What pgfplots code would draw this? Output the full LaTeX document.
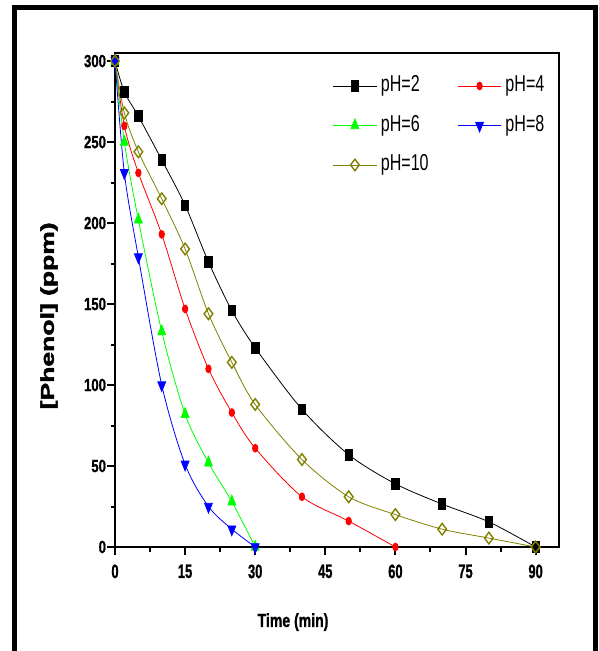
\documentclass[border=0pt]{standalone}
\usepackage{pgfplots}
\pgfplotsset{compat=1.18}
\usepackage{fontspec}
\usepackage{graphicx}
\setmainfont{Liberation Sans}
\newfontfamily\hv[FakeBold=1.3]{Liberation Sans Bold}
\newfontfamily\hvv[FakeBold=2]{Liberation Sans Bold}
\definecolor{olv}{RGB}{128,128,0}
\definecolor{grn}{RGB}{0,255,0}
\newcommand{\leg}[1]{\scalebox{0.7}[1]{#1}}

\begin{document}
\begin{tikzpicture}[x=1pt,y=1pt]
\useasboundingbox (0,0) rectangle (599,651);
\draw[line width=5pt] (14.5,-20) -- (14.5,643.5) -- (595,643.5) -- (595,-20);
\begin{axis}[
  at={(115pt,104pt)}, anchor=south west,
  scale only axis, width=444pt, height=494pt,
  xmin=0, xmax=95, ymin=0, ymax=305,
  xtick={0,15,...,90}, ytick={0,50,...,300},
  minor x tick num=1, minor y tick num=1,
  xtick pos=bottom, ytick pos=left,
  tick align=outside, major tick length=8pt, minor tick length=4.5pt,
  every tick/.style={line width=2pt, black},
  axis line style={line width=2.5pt},
  /pgf/number format/assume math mode=true,
  xticklabel={\scalebox{0.66}[1]{\pgfmathprintnumber{\tick}}},
  yticklabel={\scalebox{0.75}[1]{\pgfmathprintnumber{\tick}}},
  xticklabel style={font=\hv\fontsize{19.5}{20}\selectfont, yshift=-6pt},
  yticklabel style={font=\hv\fontsize{17.5}{18}\selectfont, xshift=2.5pt},
  every axis y label/.style={at={(axis description cs:-0.1486,0.468)}, rotate=90, anchor=center},
  every axis x label/.style={at={(axis description cs:0.401,-0.152)}, anchor=center},
  xlabel={\hv\fontsize{19}{20}\selectfont\scalebox{0.74}[1]{Time (min)}},
  ylabel={\scalebox{1}[0.7]{\hvv\fontsize{26.5}{28}\selectfont [Phenol] (ppm)}},
  clip=false,
  legend columns=2,
  legend cell align=left,
  legend style={draw=none, fill=none, inner sep=0pt, outer sep=0pt,
    at={(axis description cs:0.491,0.955)}, anchor=north west,
    font=\fontsize{23}{24}\selectfont,
    nodes={inner sep=0pt, text height=16.5pt, text depth=5pt},
    row sep=18pt,
    /tikz/every odd column/.append style={column sep=4pt},
    /tikz/every even column/.append style={column sep=29pt}},
  legend image code/.code={\draw[#1, mark repeat=2, mark phase=2] plot coordinates {(0pt,0pt) (21.5pt,0pt) (43pt,0pt)};},
]
\addplot[black, line width=0.8pt, smooth, mark=square*, mark size=5.3pt, mark options={xscale=0.7, solid}] coordinates {
(0,300)(2,281)(5,266)(10,239)(15,211)(20,176)(25,146)(30,123)(40,85)(50,57)(60,39)(70,26.5)(80,15.5)(90,0)};
\addlegendentry{\leg{pH=2}}
\addplot[red, line width=0.8pt, smooth, mark=*, mark size=3.9pt, mark options={xscale=0.7, solid}] coordinates {
(0,300)(2,260)(5,231)(10,193)(15,147)(20,110)(25,83)(30,61)(40,31)(50,16)(60,0)};
\addlegendentry{\leg{pH=4}}
\addplot[grn, line width=0.8pt, smooth, mark=triangle*, mark size=6.5pt, mark options={xscale=0.7, solid}] coordinates {
(0,300)(2,250)(5,202)(10,133)(15,82)(20,52)(25,28)(30,0)};
\addlegendentry{\leg{pH=6}}
\addplot[blue, line width=0.8pt, smooth, mark=triangle*, mark size=6.5pt, mark options={xscale=0.7, rotate=180, solid}] coordinates {
(0,300)(2,231)(5,179)(10,100)(15,51)(20,25)(25,11)(30,0)};
\addlegendentry{\leg{pH=8}}
\addplot[olv, line width=0.8pt, smooth, mark=diamond, mark size=5.8pt, mark options={line width=1.4pt, fill=white, solid}] coordinates {
(0,300)(2,268)(5,244)(10,215)(15,184)(20,144)(25,114)(30,88)(40,54)(50,31)(60,20)(70,11)(80,5.5)(90,0)};
\addlegendentry{\leg{pH=10}}
\end{axis}
\end{tikzpicture}
\end{document}
